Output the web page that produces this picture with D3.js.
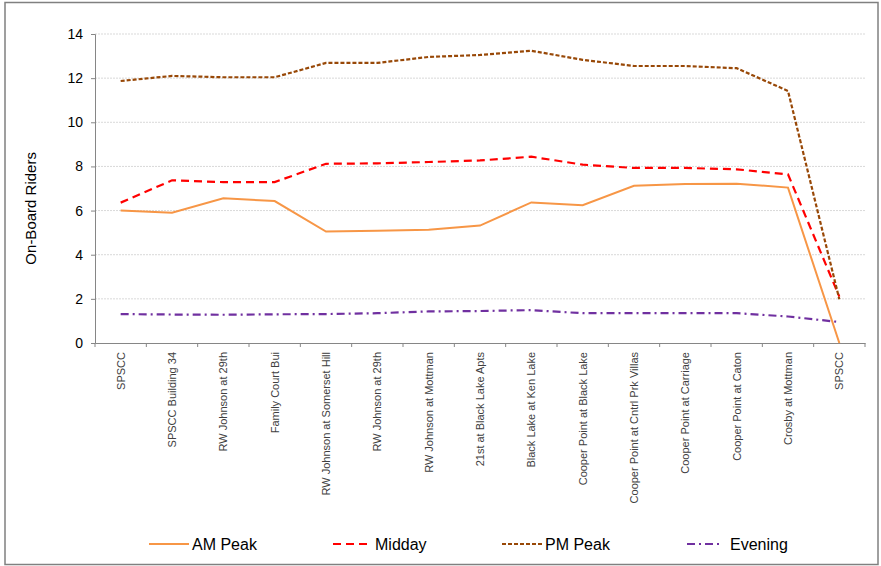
<!DOCTYPE html>
<html>
<head>
<meta charset="utf-8">
<script src="https://cdn.jsdelivr.net/npm/d3@7"></script>
<style>
  body { margin: 0; background: #fff; }
  svg { font-family: "Liberation Sans", Arial, sans-serif; }
</style>
</head>
<body>
<div id="container"></div>
<script>
const WIDTH = 881;
const HEIGHT = 566;
const MARGIN = { TOP: 34, BOTTOM: 223, LEFT: 95, RIGHT: 16 };

const width = WIDTH - MARGIN.LEFT - MARGIN.RIGHT;
const height = HEIGHT - MARGIN.TOP - MARGIN.BOTTOM;

const stops = ['SPSCC', 'SPSCC Building 34', 'RW Johnson at 29th', 'Family Court Bui',
  'RW Johnson at Somerset Hill', 'RW Johnson at 29th ', 'RW Johnson at Mottman',
  '21st at Black Lake Apts', 'Black Lake at Ken Lake', 'Cooper Point at Black Lake',
  'Cooper Point at Cntrl Prk Villas', 'Cooper Point at Carriage', 'Cooper Point at Caton',
  'Crosby at Mottman', 'SPSCC '];

const amPeak  = [6.0, 5.9, 6.56, 6.43, 5.05, 5.09, 5.13, 5.32, 6.37, 6.24, 7.12, 7.2, 7.22, 7.04, 0];
const midday  = [6.36, 7.37, 7.29, 7.29, 8.12, 8.14, 8.2, 8.27, 8.44, 8.08, 7.93, 7.93, 7.87, 7.64, 2.1];
const pmPeak  = [11.87, 12.1, 12.04, 12.04, 12.69, 12.69, 12.96, 13.05, 13.24, 12.83, 12.55, 12.55, 12.45, 11.42, 1.98];
const evening = [1.31, 1.29, 1.28, 1.3, 1.31, 1.35, 1.43, 1.45, 1.49, 1.35, 1.35, 1.35, 1.35, 1.2, 0.95];

const yTicks = [0, 2, 4, 6, 8, 10, 12, 14];

const series = [
  { name: 'AM Peak', values: amPeak, color: '#f79646', dash: null },
  { name: 'Midday', values: midday, color: '#ff0000', dash: '8,5' },
  { name: 'PM Peak', values: pmPeak, color: '#984807', dash: '4,2' },
  { name: 'Evening', values: evening, color: '#7030a0', dash: '8,4,2,4' }
];

const svg = d3.select('#container')
  .append('svg')
    .attr('width', WIDTH)
    .attr('height', HEIGHT);

// outer frame
svg.append('rect')
  .attr('x', 5).attr('y', 2.5)
  .attr('width', WIDTH - 8).attr('height', HEIGHT - 4)
  .attr('fill', 'none')
  .attr('stroke', '#808080')
  .attr('stroke-width', 1.5);

const container = svg.append('g')
  .attr('transform', `translate(${MARGIN.LEFT}, ${MARGIN.TOP})`);

const x = d3.scaleBand().domain(d3.range(stops.length)).range([0, width]).padding(0);
const y = d3.scaleLinear().domain([0, 14]).range([height, 0]);
const cx = i => x(i) + x.bandwidth() / 2;

// gridlines
container.append('g')
  .selectAll('line')
  .data(yTicks.filter(t => t > 0))
  .join('line')
    .attr('x1', 0).attr('x2', width)
    .attr('y1', t => y(t)).attr('y2', t => y(t))
    .attr('stroke', '#d9d9d9')
    .attr('stroke-dasharray', '2,1');

// y axis
const yAxis = container.append('g')
  .call(d3.axisLeft(y).tickValues(yTicks).tickSize(4).tickPadding(8).tickFormat(d3.format('d')));
yAxis.select('.domain').attr('stroke', '#868686');
yAxis.selectAll('.tick line').attr('stroke', '#868686');
yAxis.selectAll('text').attr('font-size', 14).attr('fill', '#000');

// x axis
const xAxis = container.append('g')
  .attr('transform', `translate(0, ${height})`)
  .call(d3.axisBottom(x).tickSize(0).tickSizeOuter(0).tickFormat(i => stops[i].trim()));
xAxis.select('.domain').attr('stroke', '#868686');
xAxis.selectAll('text')
  .attr('font-size', 11)
  .attr('fill', '#404040')
  .attr('transform', 'rotate(-90)')
  .attr('text-anchor', 'end')
  .attr('x', -9)
  .attr('y', 0)
  .attr('dy', '0.35em');

container.append('g')
  .selectAll('line')
  .data(d3.range(stops.length + 1))
  .join('line')
    .attr('x1', i => i * x.bandwidth()).attr('x2', i => i * x.bandwidth())
    .attr('y1', height).attr('y2', height + 4)
    .attr('stroke', '#868686');

// y axis title
svg.append('text')
  .attr('transform', `translate(36, ${MARGIN.TOP + y(6.1)}) rotate(-90)`)
  .attr('text-anchor', 'middle')
  .attr('font-size', 15)
  .text('On-Board Riders');

// lines
const line = d3.line().x((d, i) => cx(i)).y(d => y(d));

container.selectAll('.series')
  .data(series)
  .join('path')
    .attr('class', 'series')
    .attr('d', s => line(s.values))
    .attr('fill', 'none')
    .attr('stroke', s => s.color)
    .attr('stroke-width', s => s.name === 'AM Peak' ? 2 : 2.2)
    .attr('stroke-dasharray', s => s.dash);

// legend
const legendX = [149, 333, 502, 687];
const legendLen = [40, 39, 40, 36];
const legend = svg.append('g')
  .selectAll('g')
  .data(series)
  .join('g')
    .attr('transform', (s, i) => `translate(${legendX[i]}, 544)`);

legend.append('line')
  .attr('x1', 0).attr('x2', (s, i) => legendLen[i])
  .attr('stroke', s => s.color)
  .attr('stroke-width', 2.2)
  .attr('stroke-dasharray', s => s.dash);

legend.append('text')
  .attr('x', (s, i) => legendLen[i] + (s.name === 'Evening' ? 7 : 3))
  .attr('dy', '0.35em')
  .attr('font-size', 16)
  .text(s => s.name);
</script>
</body>
</html>
